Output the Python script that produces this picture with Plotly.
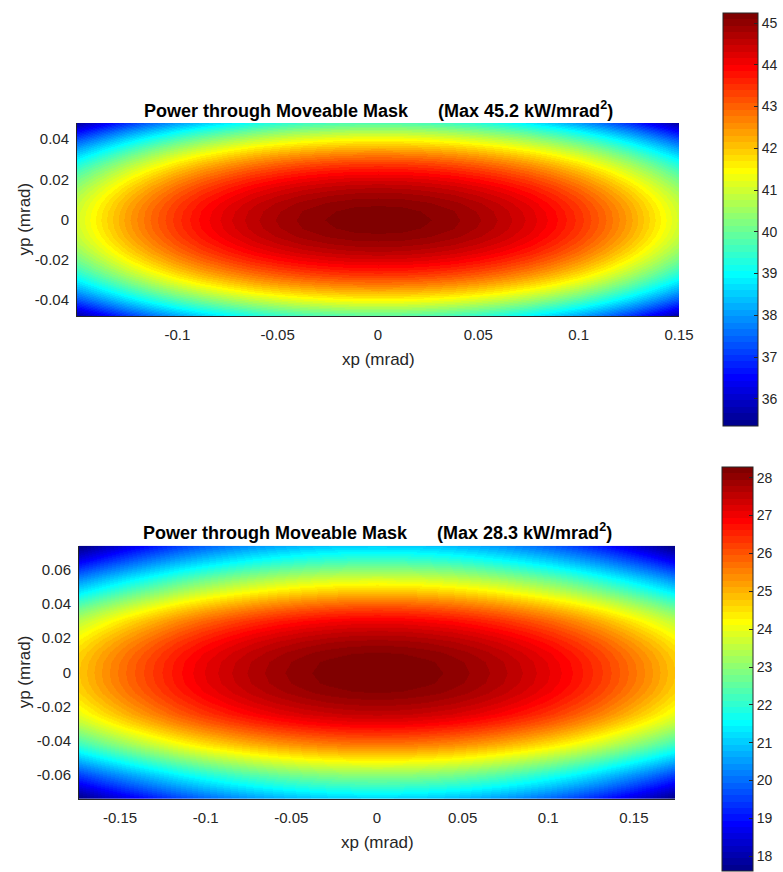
import numpy as np
import plotly.graph_objects as go

W, H = 783, 872

# ---------------- data ----------------
# Top panel: power density along yp = 0 (vs xp) and along xp = 0 (vs yp), kW/mrad^2
top_max = 45.2
top_x_half = [0.0, 0.0125, 0.025, 0.0375, 0.05, 0.0625, 0.075, 0.0875, 0.1, 0.1125, 0.125, 0.1375, 0.15]
top_px_half = [45.20, 45.18, 45.10, 44.98, 44.80, 44.57, 44.27, 43.91, 43.48, 42.97, 42.39, 41.72, 41.02]
top_y_half = [0.0, 0.004, 0.008, 0.012, 0.016, 0.020, 0.024, 0.028, 0.032, 0.036, 0.040, 0.044, 0.048]
top_py_half = [45.20, 45.16, 45.05, 44.86, 44.60, 44.26, 43.85, 43.36, 42.79, 42.15, 41.44, 40.65, 39.79]
top_crange = [35.35, 45.24]
top_cticks = [36, 37, 38, 39, 40, 41, 42, 43, 44, 45]
top_xticks = [-0.1, -0.05, 0, 0.05, 0.1, 0.15]
top_xticktext = ["-0.1", "-0.05", "0", "0.05", "0.1", "0.15"]
top_yticks = [-0.04, -0.02, 0, 0.02, 0.04]
top_yticktext = ["-0.04", "-0.02", "0", "0.02", "0.04"]

# Bottom panel
bot_max = 28.3
bot_x_half = [0.0, 0.0145, 0.029, 0.0435, 0.058, 0.0725, 0.087, 0.1015, 0.116, 0.1305, 0.145, 0.1595, 0.174]
bot_px_half = [28.30, 28.28, 28.20, 28.08, 27.91, 27.69, 27.42, 27.11, 26.74, 26.32, 25.86, 25.35, 24.79]
bot_y_half = [0.0, 0.006, 0.012, 0.018, 0.024, 0.030, 0.036, 0.042, 0.048, 0.054, 0.060, 0.066, 0.074]
bot_py_half = [28.30, 28.26, 28.12, 27.87, 27.51, 27.01, 26.37, 25.61, 24.77, 23.89, 23.01, 22.15, 21.05]
bot_crange = [17.62, 28.29]
bot_cticks = [18, 19, 20, 21, 22, 23, 24, 25, 26, 27, 28]
bot_xticks = [-0.15, -0.1, -0.05, 0, 0.05, 0.1, 0.15]
bot_xticktext = ["-0.15", "-0.1", "-0.05", "0", "0.05", "0.1", "0.15"]
bot_yticks = [-0.06, -0.04, -0.02, 0, 0.02, 0.04, 0.06]
bot_yticktext = ["-0.06", "-0.04", "-0.02", "0", "0.02", "0.04", "0.06"]

title_text = "Power through Moveable Mask"


def mirror(half):
    h = np.asarray(half, dtype=float)
    return np.concatenate([-h[:0:-1], h])


def mirror_vals(half):
    h = np.asarray(half, dtype=float)
    return np.concatenate([h[:0:-1], h])


def field(xh, pxh, yh, pyh, pmax):
    x = mirror(xh)
    y = mirror(yh)
    px = mirror_vals(pxh)
    py = mirror_vals(pyh)
    z = px[None, :] + py[:, None] - pmax
    return x, y, z


# MATLAB jet(64)
def jet(m=64):
    n = int(np.ceil(m / 4))
    u = np.concatenate([np.arange(1, n + 1) / n, np.ones(n - 1), np.arange(n, 0, -1) / n])
    g = int(np.ceil(n / 2)) - (1 if m % 4 == 1 else 0) + np.arange(1, len(u) + 1)
    r = g + n
    b = g - n
    g = g[g <= m]
    r = r[r <= m]
    b = b[b >= 1]
    J = np.zeros((m, 3))
    J[r - 1, 0] = u[:len(r)]
    J[g - 1, 1] = u[:len(g)]
    J[b - 1, 2] = u[len(u) - len(b):]
    return J


J = jet(64)
cscale = []
for i, c in enumerate(J):
    col = "rgb(%d,%d,%d)" % tuple(int(round(v * 255)) for v in c)
    cscale.append([i / 64, col])
    cscale.append([(i + 1) / 64, col])

FONT = "Liberation Sans, Arial, Helvetica, sans-serif"
AX_COL = "#262626"


def px2x(p):
    return p / W


def px2y(p):
    return 1 - p / H


panels = [
    dict(xh=top_x_half, pxh=top_px_half, yh=top_y_half, pyh=top_py_half, pmax=top_max,
         crange=top_crange, cticks=top_cticks, xt=top_xticks, xtt=top_xticktext,
         yt=top_yticks, ytt=top_yticktext,
         box=(77, 679, 123, 316), cb=(723, 35, 13, 426)),
    dict(xh=bot_x_half, pxh=bot_px_half, yh=bot_y_half, pyh=bot_py_half, pmax=bot_max,
         crange=bot_crange, cticks=bot_cticks, xt=bot_xticks, xtt=bot_xticktext,
         yt=bot_yticks, ytt=bot_yticktext,
         box=(79, 675, 545.7, 799), cb=(722, 31, 466.7, 871)),
]

fig = go.Figure()
annotations = []
layout = {}
for k, p in enumerate(panels):
    x, y, z = field(p["xh"], p["pxh"], p["yh"], p["pyh"], p["pmax"])
    sfx = "" if k == 0 else str(k + 1)
    L, R, T, B = p["box"]
    cbx, cbth, cbt, cbb = p["cb"]
    fig.add_trace(go.Contour(
        x=x, y=y, z=z, xaxis="x" + sfx, yaxis="y" + sfx,
        colorscale=cscale, zmin=p["crange"][0], zmax=p["crange"][1], zauto=False,
        contours=dict(coloring="heatmap", showlines=False,
                      start=p["crange"][0], end=p["crange"][1], size=(p["crange"][1] - p["crange"][0]) / 64),
        line=dict(width=0),
        hoverinfo="skip",
        colorbar=dict(
            x=px2x(cbx), xanchor="left", xpad=0, ypad=0,
            y=px2y(cbt), yanchor="top", lenmode="fraction", len=(cbb - cbt) / H,
            thickness=cbth, thicknessmode="pixels",
            outlinewidth=1, outlinecolor=AX_COL,
            tickmode="array", tickvals=p["cticks"], ticktext=[str(v) for v in p["cticks"]],
            ticks="inside", ticklen=4, tickcolor=AX_COL, tickwidth=1,
            tickfont=dict(family=FONT, size=14, color=AX_COL),
        ),
    ))
    xr = [float(x[0]), float(x[-1])]
    yr = [float(y[0]), float(y[-1])]
    layout["xaxis" + sfx] = dict(
        domain=[px2x(L), px2x(R)], range=xr, anchor="y" + sfx,
        tickmode="array", tickvals=p["xt"], ticktext=p["xtt"],
        ticks="outside", ticklen=5, tickcolor="rgba(0,0,0,0)",
        showgrid=False, zeroline=False, showline=True, linecolor=AX_COL, linewidth=1,
        tickfont=dict(family=FONT, size=15, color=AX_COL), automargin=False,
    )
    layout["yaxis" + sfx] = dict(
        domain=[px2y(B), px2y(T)], range=yr, anchor="x" + sfx,
        tickmode="array", tickvals=p["yt"], ticktext=p["ytt"],
        ticks="outside", ticklen=4, tickcolor="rgba(0,0,0,0)",
        showgrid=False, zeroline=False, showline=True, linecolor=AX_COL, linewidth=1,
        tickfont=dict(family=FONT, size=15, color=AX_COL), automargin=False,
    )
    cx = (L + R) / 2
    cy = (T + B) / 2
    nb = "\u00a0" * 6
    annotations.append(dict(
        text="<b>%s%s(Max %.1f kW/mrad<sup>2</sup>)</b>" % (title_text, nb, p["pmax"]),
        xref="paper", yref="paper", x=px2x(cx), y=px2y(T - 14), xanchor="center", yanchor="middle",
        showarrow=False, font=dict(family=FONT, size=18, color="black"),
    ))
    annotations.append(dict(
        text="xp (mrad)", xref="paper", yref="paper", x=px2x(cx), y=px2y(B + 43),
        xanchor="center", yanchor="middle", showarrow=False,
        font=dict(family=FONT, size=17, color=AX_COL),
    ))
    annotations.append(dict(
        text="yp (mrad)", xref="paper", yref="paper", x=px2x(24), y=px2y(cy),
        xanchor="center", yanchor="middle", showarrow=False, textangle=-90,
        font=dict(family=FONT, size=17, color=AX_COL),
    ))

fig.update_layout(
    width=W, height=H, margin=dict(l=0, r=0, t=0, b=0),
    paper_bgcolor="white", plot_bgcolor="white",
    showlegend=False, annotations=annotations, **layout,
)
fig.write_html("out.html")
